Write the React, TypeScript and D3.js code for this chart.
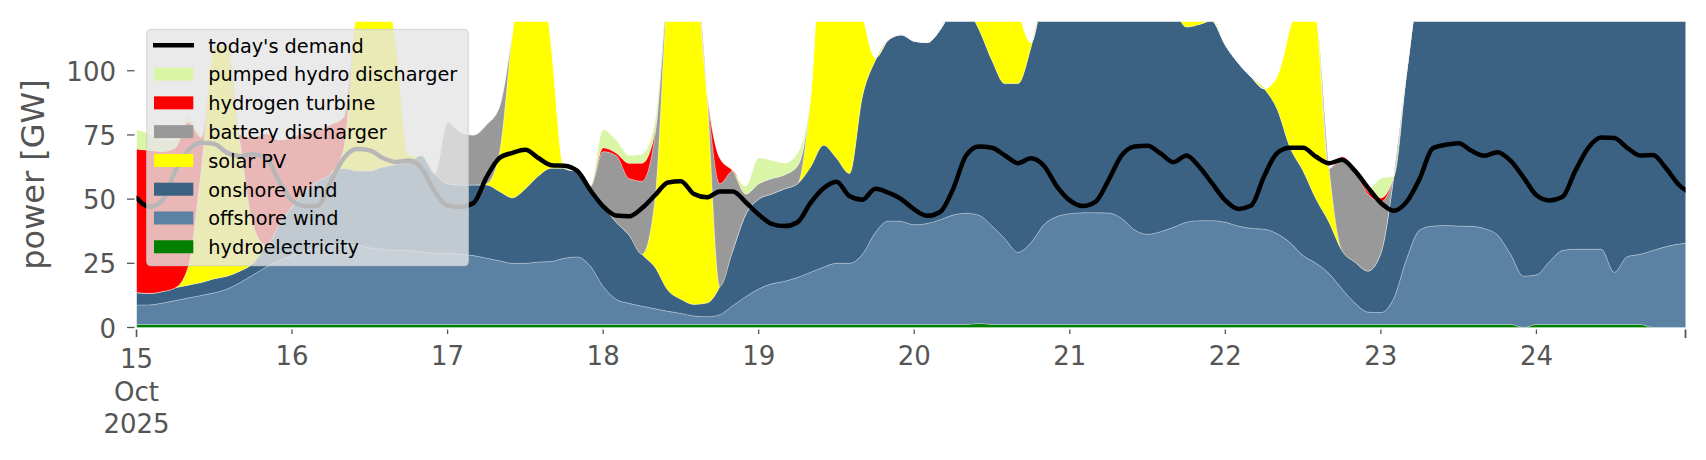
import React from "react";
import * as d3 from "d3";

// ---- data: samples every 2 hours from 15 Oct 2025 00:00 (GW) ----
const START = Date.UTC(2025, 9, 15, 0);
const STEP_HOURS = 2;
const END_HOUR = 239;

const hydroelectricity = [
  1.2, 1.2, 1.2, 1.2, 1.2, 1.2, 1.2, 1.2, 1.2, 1.2,
  1.2, 1.2, 1.2, 1.2, 1.2, 1.2, 1.2, 1.2, 1.2, 1.2,
  1.2, 1.2, 1.2, 1.2, 1.2, 1.2, 1.2, 1.2, 1.2, 1.2,
  1.2, 1.2, 1.2, 1.2, 1.2, 1.2, 1.2, 1.2, 1.2, 1.2,
  1.2, 1.2, 1.2, 1.2, 1.2, 1.2, 1.2, 1.2, 1.2, 1.2,
  1.2, 1.2, 1.2, 1.2, 1.2, 1.2, 1.2, 1.2, 1.2, 1.2,
  1.2, 1.2, 1.2, 1.2, 1.2, 1.6, 1.2, 1.2, 1.2, 1.2,
  1.2, 1.2, 1.2, 1.2, 1.2, 1.2, 1.2, 1.2, 1.2, 1.2,
  1.2, 1.2, 1.2, 1.2, 1.2, 1.2, 1.2, 1.2, 1.2, 1.2,
  1.2, 1.2, 1.2, 1.2, 1.2, 1.2, 1.2, 1.2, 1.2, 1.2,
  1.2, 1.2, 1.2, 1.2, 1.2, 1.2, 1.2, 0, 1.2, 1.2,
  1.2, 1.2, 1.2, 1.2, 1.2, 1.2, 1.2, 0, 0, 0,
  0,
];

const offshoreWind = [
  7.6, 7.6, 8.3, 9.3, 10.3, 11.3, 12.3, 13.8, 16.3, 19.3,
  22.3, 24.8, 26.8, 28.8, 29.8, 30.8, 30.8, 30.8, 29.8, 29.3,
  28.8, 28.8, 28.3, 27.8, 27.8, 27.3, 26.8, 25.8, 24.8, 23.8,
  23.8, 24.3, 24.5, 25.8, 26.3, 22.8, 14.8, 9.8, 8.2, 7.1,
  6.1, 5.1, 4.3, 3.3, 3.0, 3.8, 7.3, 10.8, 13.8, 15.8,
  16.8, 18.3, 20.3, 22.3, 23.8, 23.8, 27.3, 35.8, 40.3, 40.1,
  38.8, 39.3, 40.8, 42.6, 43.3, 42.1, 38.3, 33.3, 28.1, 31.8,
  38.8, 42.0, 43.1, 43.5, 43.5, 43.4, 41.3, 36.8, 35.1, 36.1,
  37.8, 39.8, 40.4, 40.4, 39.8, 38.3, 37.4, 37.1, 35.3, 31.8,
  26.8, 23.8, 19.8, 13.8, 8.3, 4.8, 4.6, 10.3, 25.8, 36.8,
  38.3, 38.5, 38.3, 38.2, 37.3, 34.8, 27.3, 20.0, 19.3, 24.4,
  28.8, 29.3, 29.3, 29.3, 20.3, 26.4, 27.3, 30.0, 31.5, 32.5,
  33.0,
];

const onshoreWind = [
  4.8, 4.5, 4.5, 5, 5, 5, 5.5, 5, 4.5, 4.5,
  8.5, 14, 19, 23, 26, 28, 30, 29, 30, 32,
  33.5, 34.5, 37.5, 31, 27, 27, 27.5, 28.5, 27, 25.5,
  29, 33.5, 36.3, 35, 33, 31, 31.5, 30, 26.6, 20.2,
  16.2, 8.2, 5.5, 4.5, 5.3, 11, 21.5, 32, 35, 35,
  36, 36.5, 41, 47.5, 41, 35, 61.5, 67, 70.5, 72.7,
  71.5, 70.5, 74, 81.2, 79.5, 72.3, 64.5, 60.5, 65.7, 76,
  90, 91.8, 95.7, 95.3, 95.3, 95.4, 97.5, 102, 103.7, 97.7,
  86, 76, 76.4, 77.9, 69, 63.5, 58.9, 54.7, 48.5, 37,
  33, 25, 20, 15, 16, 16, 23.2, 47.5, 73, 97,
  105, 105, 105, 105, 105, 105, 105, 105, 105, 105,
  105, 105, 105, 105, 105, 105, 105, 105, 105, 105,
  105,
];

const solarPV = [
  0, 0, 0, 0, 7.5, 44.5, 91, 90, 50, 15,
  0, 0, 0, 0, 0, 0, 8, 64, 79, 72.5,
  48.5, 2.5, 0, 0, 0, 0, 0, 0.5, 15, 64.5,
  96, 91, 48, 0, 0, 0, 0, 0, 0, 0,
  26.5, 120.5, 159, 141, 82.5, 0, 0, 0, 0, 0,
  0, 0, 27.5, 89, 84, 80, 32, 1, 0, 0,
  0, 0, 0, 0, 10, 24, 46, 55, 30, 2,
  0, 0, 0, 0, 0, 0, 0, 0, 0, 0,
  0, 8, 3, 0, 0, 0, 0, 0, 13, 47,
  74, 72, 21, 0, 0, 0, 0, 0, 0, 0,
  0, 0, 0, 0, 0, 0, 0, 0, 0, 0,
  0, 0, 0, 0, 0, 0, 0, 0, 0, 0,
  0,
];

const batteryDischarger = [
  0, 0, 0, 0, 0, 0, 0, 0, 0, 0,
  0, 0, 0, 0, 0, 0, 0, 0, 0, 0,
  0, 0, 0, 0, 24, 20.5, 19.5, 23, 18, 0,
  0, 0, 0, 0, 0, 0, 21, 26, 22, 28.5,
  25, 0, 0, 0, 0, 40, 31, 8, 6, 6,
  5.5, 7, 0, 0, 0, 0, 0, 0, 0, 0,
  0, 0, 0, 0, 0, 0, 0, 0, 0, 0,
  0, 0, 0, 0, 0, 0, 0, 0, 0, 0,
  0, 0, 0, 0, 0, 0, 0, 0, 0, 0,
  0, 0, 0, 35, 35, 30, 20, 0, 0, 0,
  0, 0, 0, 0, 0, 0, 0, 0, 0, 0,
  0, 0, 0, 0, 0, 0, 0, 0, 0, 0,
  0,
];

const hydrogenTurbine = [
  55.9, 55.7, 54.5, 54.5, 56, 12, 0, 0, 3, 34,
  43.5, 33, 27, 23, 20, 19, 12, 0, 0, 0,
  0, 0, 0, 0, 0, 0, 0, 0, 0, 0,
  0, 0, 0, 0, 0, 0, 1.5, 1, 6, 7,
  1, 0, 0, 0, 0, 10, 0, 0, 0, 0,
  0, 0, 0, 0, 0, 0, 0, 0, 0, 0,
  0, 0, 0, 0, 0, 0, 0, 0, 0, 0,
  0, 0, 0, 0, 0, 0, 0, 0, 0, 0,
  0, 0, 0, 0, 0, 0, 0, 0, 0, 0,
  0, 0, 0, 1.5, 1.5, 1, 1.5, 0, 0, 0,
  0, 0, 0, 0, 0, 0, 0, 0, 0, 0,
  0, 0, 0, 0, 0, 0, 0, 0, 0, 0,
  0,
];

const pumpedHydroDischarger = [
  7.5, 6.5, 5, 2.5, 2, 1, 0, 0, 0, 0,
  0, 0, 0, 0, 0, 0, 0, 0, 0, 0,
  0, 0, 0, 0, 0, 0, 0, 0, 0, 0,
  0, 0, 0, 0, 0, 0, 7, 5, 3, 3.5,
  4, 0, 0, 0, 0, 0, 0, 3, 10, 7,
  4.5, 5, 0, 0, 0, 0, 0, 0, 0, 0,
  0, 0, 0, 0, 0, 0, 0, 0, 0, 0,
  0, 0, 0, 0, 0, 0, 0, 0, 0, 0,
  0, 0, 0, 0, 0, 0, 0, 0, 0, 0,
  0, 0, 0, 0, 0, 1, 7.5, 0, 0, 0,
  0, 0, 0, 0, 0, 0, 0, 0, 0, 0,
  0, 0, 0, 0, 0, 0, 0, 0, 0, 0,
  0,
];

const todaysDemand = [
  50.5, 47, 49.5, 61, 69, 72, 71.5, 68, 66.8, 67.5,
  66, 57, 49.5, 47.3, 47.5, 57, 66, 69.5, 69, 66,
  64.5, 65, 62, 53, 47.5, 47, 48.5, 58.5, 66, 68,
  69.2, 66, 63.2, 63, 61, 53.6, 47.2, 43.6, 43.3, 46.5,
  51.5, 56.5, 57, 52, 50.7, 53, 53, 48.8, 44, 40.4,
  39.5, 41, 48.5, 54.2, 56.8, 51.2, 49.8, 54, 52.5, 50,
  46, 43.5, 45, 54, 67, 70.5, 70, 67, 64, 65.9,
  63, 55, 49.5, 47.3, 49, 57.5, 67, 70.5, 70.8, 67.8,
  64.4, 67, 62.5, 56, 49.5, 46.2, 47.5, 59, 68, 70,
  70, 66.5, 64, 65.3, 61, 54.5, 48.5, 45.5, 49, 58,
  69.8, 71.2, 71.8, 68.8, 66.9, 68.3, 65, 58.5, 51.5, 49.5,
  50.8, 61, 70, 74, 73.8, 70, 67, 67.2, 62, 55.5,
  52,
];

const yTicks = [0, 25, 50, 75, 100];
const Y_MAX = 119.1;

const SERIES = [
  { key: "hydro", label: "hydroelectricity", color: "#008000", values: hydroelectricity },
  { key: "offshore", label: "offshore wind", color: "#5b82a3", values: offshoreWind },
  { key: "onshore", label: "onshore wind", color: "#3b6283", values: onshoreWind },
  { key: "solar", label: "solar PV", color: "#ffff00", values: solarPV },
  { key: "battery", label: "battery discharger", color: "#999999", values: batteryDischarger },
  { key: "hydrogen", label: "hydrogen turbine", color: "#ff0000", values: hydrogenTurbine },
  { key: "pumped", label: "pumped hydro discharger", color: "#d9f5a6", values: pumpedHydroDischarger },
];

const FONT = "DejaVu Sans, Verdana, sans-serif";

export default function App() {
  const W = 1706;
  const H = 460;
  const left = 136.5;
  const right = 1685.5;
  const top = 21.7;
  const bottom = 327.5;
  const hourMs = 3600 * 1000;

  const x = d3
    .scaleUtc()
    .domain([new Date(START), new Date(START + END_HOUR * hourMs)])
    .range([left, right]);
  const y = d3.scaleLinear().domain([0, Y_MAX]).range([bottom, top]);

  const rows = todaysDemand.map((dem, i) => {
    const r: any = { t: new Date(START + i * STEP_HOURS * hourMs), demand: dem };
    SERIES.forEach((s) => (r[s.key] = s.values[i] ?? 0));
    return r;
  });

  const stacked = d3.stack().keys(SERIES.map((s) => s.key))(rows);
  const area = d3
    .area<any>()
    .x((d) => x(d.data.t))
    .y0((d) => y(d[0]))
    .y1((d) => y(d[1]))
    .curve(d3.curveMonotoneX);
  const line = d3
    .line<any>()
    .x((d) => x(d.t))
    .y((d) => y(d.demand))
    .curve(d3.curveMonotoneX);

  const days = d3.utcDay.range(new Date(START), new Date(START + END_HOUR * hourMs));

  const legendItems = [
    { label: "today's demand", color: "#000", isLine: true },
    ...SERIES.slice().reverse().map((s) => ({ label: s.label, color: s.color, isLine: false })),
  ];
  const legX = 146.7;
  const legY = 29.3;
  const legW = 321.6;
  const legH = 236.4;
  const rowY0 = 45.3;
  const rowStep = 28.78;

  return (
    <svg
      width={W}
      height={H}
      style={{ position: "absolute", left: 0, top: 0, background: "#fff" }}
      fontFamily={FONT}
    >
      <defs>
        <clipPath id="plotclip">
          <rect x={left} y={top} width={right - left} height={bottom - top + 1} />
        </clipPath>
      </defs>
      <g clipPath="url(#plotclip)">
        {stacked.map((layer, i) => (
          <path
            key={layer.key}
            d={area(layer as any) || ""}
            fill={SERIES[i].color}
            stroke="#ffffff"
            strokeOpacity={0.45}
            strokeWidth={0.6}
          />
        ))}
        <path
          d={line(rows) || ""}
          fill="none"
          stroke="#000"
          strokeWidth={4.5}
          strokeLinejoin="round"
          strokeLinecap="round"
        />
      </g>

      {/* y axis */}
      {yTicks.map((t) => (
        <g key={t}>
          <line x1={127} x2={134.5} y1={y(t)} y2={y(t)} stroke="#555" strokeWidth={1.3} />
          <text x={116} y={y(t) + 10} textAnchor="end" fontSize={26} fill="#555">
            {t}
          </text>
        </g>
      ))}
      <text
        transform={`translate(44,174.5) rotate(-90)`}
        textAnchor="middle"
        fontSize={32}
        fill="#555"
      >
        power [GW]
      </text>

      {/* x axis */}
      {days.map((d, i) => {
        const xx = x(d);
        const first = i === 0;
        return (
          <g key={i}>
            <line
              x1={xx}
              x2={xx}
              y1={329.5}
              y2={first ? 337 : 334}
              stroke="#555"
              strokeWidth={first ? 1.6 : 1.3}
            />
            {first ? (
              <text textAnchor="middle" fontSize={26} fill="#555">
                <tspan x={xx} y={368}>{d3.utcFormat("%-d")(d)}</tspan>
                <tspan x={xx} y={400.5}>{d3.utcFormat("%b")(d)}</tspan>
                <tspan x={xx} y={433}>{d3.utcFormat("%Y")(d)}</tspan>
              </text>
            ) : (
              <text x={xx} y={365} textAnchor="middle" fontSize={26} fill="#555">
                {d3.utcFormat("%-d")(d)}
              </text>
            )}
          </g>
        );
      })}
      <line x1={right} x2={right} y1={329.5} y2={338} stroke="#555" strokeWidth={1.8} />

      {/* legend */}
      <rect
        x={legX}
        y={legY}
        width={legW}
        height={legH}
        rx={4}
        fill="#e5e5e5"
        fillOpacity={0.8}
        stroke="#cccccc"
        strokeOpacity={0.8}
      />
      {legendItems.map((it, i) => {
        const cy = rowY0 + i * rowStep;
        return (
          <g key={it.label}>
            {it.isLine ? (
              <line x1={153} x2={194} y1={cy} y2={cy} stroke="#000" strokeWidth={4.5} />
            ) : (
              <rect x={154} y={cy - 6.5} width={39.3} height={13} fill={it.color} />
            )}
            <text x={208.3} y={cy + 7.4} fontSize={19.3} fill="#000">
              {it.label}
            </text>
          </g>
        );
      })}
    </svg>
  );
}
